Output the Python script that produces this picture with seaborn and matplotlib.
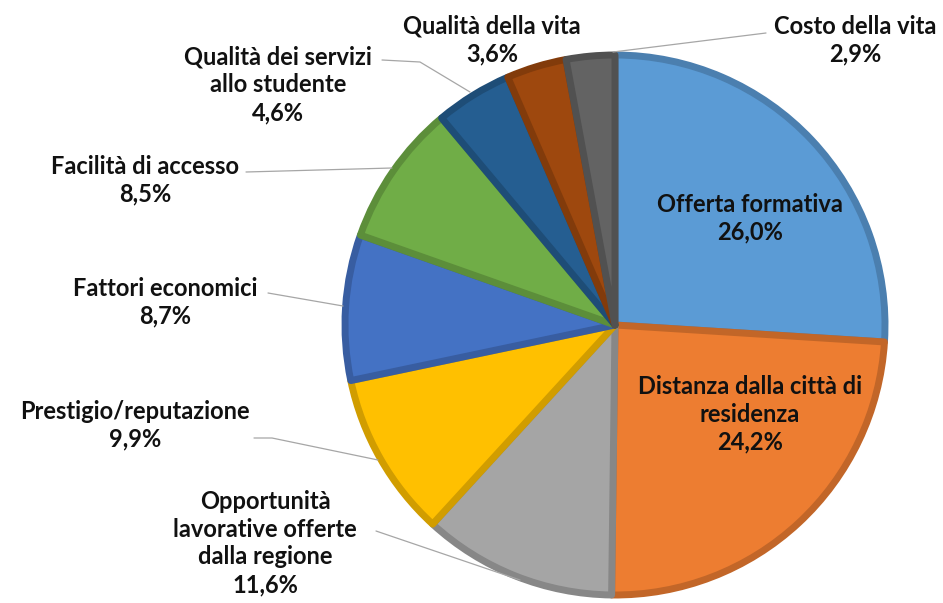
import matplotlib.pyplot as plt
import matplotlib.colors as mcolors
import seaborn as sns

# --------------------------------------------------
# Data
# --------------------------------------------------

categories = [
    "Offerta formativa",
    "Distanza dalla città di\nresidenza",
    "Opportunità\nlavorative offerte\ndalla regione",
    "Prestigio/reputazione",
    "Fattori economici",
    "Facilità di accesso",
    "Qualità dei servizi\nallo studente",
    "Qualità della vita",
    "Costo della vita",
]
shares = [26.0, 24.2, 11.6, 9.9, 8.7, 8.5, 4.6, 3.6, 2.9]
colors = ["#5B9BD5", "#ED7D31", "#A5A5A5", "#FFC000", "#4472C4",
          "#70AD47", "#255E91", "#9E480E", "#636363"]

# label positions (pixels, y down) and leader lines
label_pos = [(750, 218), (750, 414), (265, 543), (135, 425), (165, 302),
             (145, 180), (278, 85), (492, 40), (855, 40)]
leaders = [None, None,
           [(376, 531), (520, 580)],
           [(254, 438), (272, 438), (378, 460)],
           [(268, 293), (343, 306)],
           [(246, 172), (392, 168)],
           [(382, 60), (420, 62), (470, 92)],
           None,
           [(766, 33), (613, 52)]]

# --------------------------------------------------
# Plot
# --------------------------------------------------

sns.set_theme(style="white")
plt.rcParams["font.family"] = ["Lato", "DejaVu Sans"]

W, H = 943, 603
fig = plt.figure(figsize=(W / 100, H / 100), dpi=100)
ax = fig.add_axes([0, 0, 1, 1])

wedges, _ = ax.pie(
    shares,
    colors=colors,
    startangle=90,
    counterclock=False,
    center=(615, H - 325),
    radius=270,
    frame=True,
)
for w, c in zip(wedges, colors):
    r, g, b = mcolors.to_rgb(c)
    w.set_edgecolor((r * 0.82, g * 0.82, b * 0.82))
    w.set_linewidth(5)
    w.set_joinstyle("round")

ax.set_xlim(0, W)
ax.set_ylim(0, H)
ax.set_aspect("equal")
ax.axis("off")

for name, val, (x, y), lead in zip(categories, shares, label_pos, leaders):
    txt = f"{name}\n{val:.1f}%".replace(".", ",")
    ax.text(x, H - y, txt, ha="center", va="center", fontsize=17,
            fontweight="bold", color="#111111", linespacing=1.25)
    if lead:
        ax.plot([p[0] for p in lead], [H - p[1] for p in lead],
                color="#A6A6A6", lw=0.9)

fig.savefig("out.png", dpi=100)
